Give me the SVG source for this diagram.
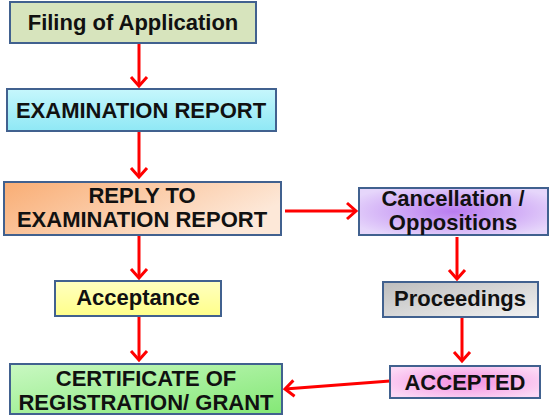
<svg xmlns="http://www.w3.org/2000/svg" width="550" height="417" viewBox="0 0 550 417">
<style>
.box{stroke:#41618f;stroke-width:2}
.t{font-family:"Liberation Sans",Arial,sans-serif;font-weight:bold;font-size:22px;fill:#111;text-anchor:middle}
.c{stroke:#f00;stroke-width:3;fill:none;marker-end:url(#ah)}
</style>
<defs>
<marker id="ah" markerUnits="userSpaceOnUse" viewBox="-12 -12 16 24" refX="0" refY="0" markerWidth="16" markerHeight="24" orient="auto">
<path d="M-9,-8 L0,0 L-9,8" fill="none" stroke="#f00" stroke-width="3"/>
</marker>
<linearGradient id="gExam" x1="0" y1="0" x2="0" y2="1"><stop offset="0" stop-color="#c6f7fc"/><stop offset="1" stop-color="#8fe8f5"/></linearGradient>
<linearGradient id="gReply" x1="0" y1="0" x2="1" y2="0.4"><stop offset="0" stop-color="#f9ad74"/><stop offset="1" stop-color="#fde8d8"/></linearGradient>
<radialGradient id="gCanc" cx="0.5" cy="0.5" r="0.6"><stop offset="0" stop-color="#b97cf0"/><stop offset="1" stop-color="#e6d6fb"/></radialGradient>
<linearGradient id="gProc" x1="0" y1="0" x2="1" y2="1"><stop offset="0" stop-color="#bdbdbd"/><stop offset="1" stop-color="#f2f2f2"/></linearGradient>
<linearGradient id="gAcc" x1="0" y1="0" x2="0" y2="1"><stop offset="0" stop-color="#ffffc0"/><stop offset="1" stop-color="#ffff8a"/></linearGradient>
<linearGradient id="gCert" x1="0" y1="0" x2="1" y2="1"><stop offset="0" stop-color="#c9f8c2"/><stop offset="1" stop-color="#84e876"/></linearGradient>
<radialGradient id="gAccd" cx="0.5" cy="0.5" r="0.6"><stop offset="0" stop-color="#f38ee0"/><stop offset="1" stop-color="#fcd8f5"/></radialGradient>
</defs>
<g id="connectors">
<line class="c" x1="139" y1="44" x2="139" y2="86"/>
<line class="c" x1="139" y1="132" x2="139" y2="177"/>
<line class="c" x1="285" y1="211" x2="356" y2="211"/>
<line class="c" x1="139" y1="236" x2="139" y2="278"/>
<line class="c" x1="457" y1="237" x2="457" y2="279"/>
<line class="c" x1="139" y1="317" x2="139" y2="360"/>
<line class="c" x1="462" y1="318" x2="462" y2="361"/>
<line class="c" x1="390" y1="381" x2="285" y2="389"/>
</g>
<g id="filing"><rect class="box" x="10" y="2" width="246" height="41" fill="#d7e4bd"/><text class="t" x="133" y="30">Filing of Application</text></g>
<g id="exam"><rect class="box" x="7" y="89" width="269" height="42" fill="url(#gExam)"/><text class="t" x="141" y="118">EXAMINATION REPORT</text></g>
<g id="reply"><rect class="box" x="4" y="182" width="277" height="53" fill="url(#gReply)"/><text class="t" x="142" y="203">REPLY TO</text><text class="t" x="142" y="227">EXAMINATION REPORT</text></g>
<g id="cancellation"><rect class="box" x="359" y="188" width="189" height="47" fill="url(#gCanc)"/><text class="t" x="453" y="206">Cancellation /</text><text class="t" x="453" y="230">Oppositions</text></g>
<g id="proceedings"><rect class="box" x="383" y="282" width="155" height="35" fill="url(#gProc)"/><text class="t" x="460" y="306">Proceedings</text></g>
<g id="acceptance"><rect class="box" x="55" y="281" width="166" height="35" fill="url(#gAcc)"/><text class="t" x="138" y="305">Acceptance</text></g>
<g id="certificate"><rect class="box" x="10" y="364" width="272" height="50" fill="url(#gCert)"/><text class="t" x="146" y="386">CERTIFICATE OF</text><text class="t" x="146" y="410">REGISTRATION/ GRANT</text></g>
<g id="accepted"><rect class="box" x="390" y="366" width="150" height="32" fill="url(#gAccd)"/><text class="t" x="465" y="390">ACCEPTED</text></g>
</svg>
